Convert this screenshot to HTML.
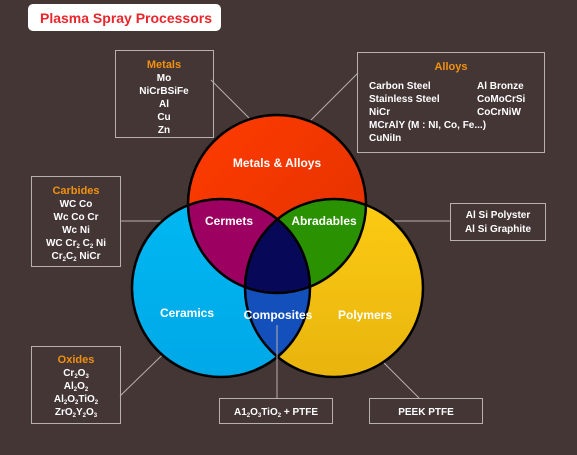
<!DOCTYPE html>
<html><head><meta charset="utf-8"><style>
html,body{margin:0;padding:0;background:#433635;}
svg{display:block}
text{font-family:"Liberation Sans",sans-serif;font-weight:bold;}
</style></head><body>
<svg width="577" height="455" viewBox="0 0 577 455" xmlns="http://www.w3.org/2000/svg">
<defs>
<linearGradient id="gr" x1="0" y1="0" x2="1" y2="1"><stop offset="0" stop-color="#ff3c00"/><stop offset="1" stop-color="#e03000"/></linearGradient>
<linearGradient id="gb" x1="0" y1="0" x2="0" y2="1"><stop offset="0" stop-color="#00b8f2"/><stop offset="1" stop-color="#00a8e8"/></linearGradient>
<linearGradient id="gy" x1="0" y1="0" x2="0" y2="1"><stop offset="0" stop-color="#fccb12"/><stop offset="1" stop-color="#e8b40e"/></linearGradient>
<clipPath id="cT"><circle cx="277" cy="204" r="89"/></clipPath>
<clipPath id="cL"><circle cx="221" cy="288" r="89"/></clipPath>
<clipPath id="cR"><circle cx="334" cy="288" r="89"/></clipPath>
</defs>
<rect width="577" height="455" fill="#433635"/>
<rect x="28" y="4" width="193" height="27" rx="5" fill="#fff"/>
<text x="40" y="23" font-size="14" fill="#e8262c">Plasma Spray Processors</text>

<g stroke="#b8b0ae" stroke-width="1" fill="none">
<rect x="115.5" y="50.5" width="98" height="87"/>
<rect x="357.5" y="52.5" width="187" height="100"/>
<rect x="31.5" y="176.5" width="89" height="90"/>
<rect x="450.5" y="203.5" width="95" height="37"/>
<rect x="31.5" y="346.5" width="89" height="77"/>
<rect x="219.5" y="398.5" width="113" height="25"/>
<rect x="369.5" y="398.5" width="113" height="25"/>
<line x1="211" y1="80" x2="249" y2="118"/>
<line x1="358" y1="73" x2="311" y2="120"/>
<line x1="120" y1="221" x2="196" y2="221"/>
<line x1="360" y1="221" x2="450" y2="221"/>
<line x1="120" y1="396" x2="184" y2="334"/>
<line x1="277" y1="325" x2="277" y2="398"/>
<line x1="356" y1="335" x2="419" y2="398"/>
</g>

<circle cx="221" cy="288" r="89" fill="url(#gb)"/>
<circle cx="334" cy="288" r="89" fill="url(#gy)"/>
<circle cx="277" cy="204" r="89" fill="url(#gr)"/>
<g clip-path="url(#cT)"><circle cx="221" cy="288" r="89" fill="#9c0060"/><circle cx="334" cy="288" r="89" fill="#2a9200"/></g>
<g clip-path="url(#cL)"><circle cx="334" cy="288" r="89" fill="#1450bc"/></g>
<g clip-path="url(#cL)"><g clip-path="url(#cR)"><circle cx="277" cy="204" r="89" fill="#080858"/></g></g>
<g fill="none" stroke="#000" stroke-width="2.5">
<circle cx="277" cy="204" r="89"/><circle cx="221" cy="288" r="89"/><circle cx="334" cy="288" r="89"/>
</g>
<line x1="277" y1="325" x2="277" y2="398" stroke="#b8b0ae" stroke-width="1"/>
<line x1="196" y1="221" x2="196" y2="221" stroke="#b8b0ae"/>

<g fill="#fff" font-size="12" text-anchor="middle">
<text x="277" y="167">Metals &amp; Alloys</text>
<text x="229" y="225">Cermets</text>
<text x="324" y="225">Abradables</text>
<text x="187" y="317">Ceramics</text>
<text x="278" y="319">Composites</text>
<text x="365" y="319">Polymers</text>
</g>

<g font-size="10" text-anchor="middle" fill="#fff">
<text x="164" y="68" fill="#f29111" font-size="11">Metals</text>
<text x="164" y="81">Mo</text><text x="164" y="94">NiCrBSiFe</text><text x="164" y="107">Al</text><text x="164" y="120">Cu</text><text x="164" y="133">Zn</text>
<text x="451" y="70" fill="#f29111" font-size="11">Alloys</text>
<text x="76" y="194" fill="#f29111" font-size="11">Carbides</text>
<text x="76" y="207">WC Co</text><text x="76" y="220">Wc Co Cr</text><text x="76" y="233">Wc Ni</text>
<text x="76" y="246">WC Cr<tspan font-size="6" dy="2">2</tspan><tspan dy="-2"> C</tspan><tspan font-size="6" dy="2">2</tspan><tspan dy="-2"> Ni</tspan></text>
<text x="76" y="259">Cr<tspan font-size="6" dy="2">2</tspan><tspan dy="-2">C</tspan><tspan font-size="6" dy="2">2</tspan><tspan dy="-2"> NiCr</tspan></text>
<text x="498" y="218">Al Si Polyster</text><text x="498" y="232">Al Si Graphite</text>
<text x="76" y="363" fill="#f29111" font-size="11">Oxides</text>
<text x="76" y="376">Cr<tspan font-size="6" dy="2">2</tspan><tspan dy="-2">O</tspan><tspan font-size="6" dy="2">3</tspan></text>
<text x="76" y="389">Al<tspan font-size="6" dy="2">2</tspan><tspan dy="-2">O</tspan><tspan font-size="6" dy="2">2</tspan></text>
<text x="76" y="402">Al<tspan font-size="6" dy="2">2</tspan><tspan dy="-2">O</tspan><tspan font-size="6" dy="2">2</tspan><tspan dy="-2">TiO</tspan><tspan font-size="6" dy="2">2</tspan></text>
<text x="76" y="415">ZrO<tspan font-size="6" dy="2">2</tspan><tspan dy="-2">Y</tspan><tspan font-size="6" dy="2">2</tspan><tspan dy="-2">O</tspan><tspan font-size="6" dy="2">3</tspan></text>
<text x="276" y="415">A1<tspan font-size="6" dy="2">2</tspan><tspan dy="-2">O</tspan><tspan font-size="6" dy="2">3</tspan><tspan dy="-2">TiO</tspan><tspan font-size="6" dy="2">2</tspan><tspan dy="-2"> + PTFE</tspan></text>
<text x="426" y="415">PEEK  PTFE</text>
</g>
<g font-size="10" fill="#fff">
<text x="369" y="89">Carbon Steel</text><text x="369" y="102">Stainless Steel</text><text x="369" y="115">NiCr</text>
<text x="369" y="128">MCrAlY (M : NI, Co, Fe...)</text><text x="369" y="141">CuNiIn</text>
<text x="477" y="89">Al Bronze</text><text x="477" y="102">CoMoCrSi</text><text x="477" y="115">CoCrNiW</text>
</g>
</svg>
</body></html>
